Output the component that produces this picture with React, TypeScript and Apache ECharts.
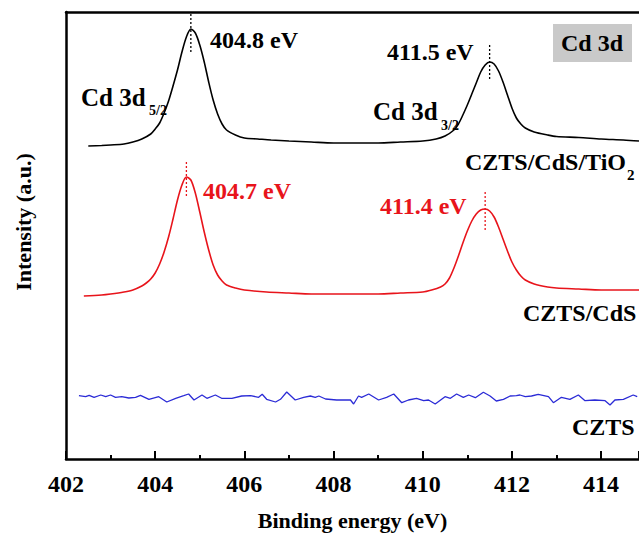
import { useEffect, useRef } from "react";
import * as echarts from "echarts";

const FONT = "Liberation Serif";

// Binding energy (eV) vs intensity (arbitrary units, offset traces)
const tiO2Curve: [number, number][] = [
  [402.5, 313], [402.8, 313.5], [403.0, 314], [403.3, 315], [403.5, 317], [403.7, 320],
  [403.9, 325], [404.0, 330], [404.1, 336], [404.2, 346], [404.3, 358], [404.4, 373],
  [404.5, 389], [404.6, 407], [404.7, 422], [404.8, 430], [404.9, 426], [405.0, 414],
  [405.1, 397], [405.2, 377], [405.3, 359], [405.4, 345], [405.5, 335], [405.6, 329],
  [405.8, 324], [406.0, 321], [406.3, 320], [406.6, 319], [407.0, 318], [407.5, 317],
  [408.0, 316], [408.5, 316], [409.0, 316], [409.5, 317], [410.0, 318], [410.3, 320],
  [410.5, 323], [410.7, 329], [410.8, 335], [410.9, 344], [411.0, 354], [411.1, 365],
  [411.2, 376], [411.3, 387], [411.4, 394], [411.5, 397], [411.6, 395], [411.7, 388],
  [411.8, 377], [411.9, 364], [412.0, 351], [412.1, 341], [412.2, 335], [412.3, 331],
  [412.5, 327], [412.8, 324], [413.0, 322.5], [413.5, 321.5], [414.0, 320], [414.5, 319],
  [414.85, 318],
];

const cdsCurve: [number, number][] = [
  [402.4, 163], [402.8, 164], [403.0, 165], [403.3, 167], [403.5, 169], [403.7, 173],
  [403.8, 176], [403.9, 180], [404.0, 186], [404.1, 195], [404.2, 207], [404.3, 222],
  [404.4, 240], [404.5, 259], [404.6, 274], [404.7, 282], [404.8, 279], [404.9, 266],
  [405.0, 247], [405.1, 227], [405.2, 209], [405.3, 194], [405.4, 184], [405.5, 178],
  [405.6, 174], [405.8, 171], [406.0, 169], [406.5, 167], [407.0, 166], [407.5, 165],
  [408.0, 165], [408.5, 165], [409.0, 165], [409.5, 166], [410.0, 167], [410.2, 169],
  [410.4, 172], [410.5, 175], [410.6, 181], [410.7, 191], [410.8, 203], [410.9, 216],
  [411.0, 228], [411.1, 238], [411.2, 245], [411.3, 249], [411.4, 250], [411.5, 248],
  [411.6, 242], [411.7, 232], [411.8, 220], [411.9, 208], [412.0, 197], [412.1, 189],
  [412.2, 183], [412.3, 179], [412.5, 175], [412.8, 172], [413.0, 171], [413.5, 170],
  [414.0, 169], [414.5, 169], [414.85, 169],
];

const cztsCurve: [number, number][] = [
  [402.29, 63.3], [402.44, 62.3], [402.52, 63.7], [402.63, 61.7], [402.78, 64], [402.89, 62.3],
  [403.0, 64], [403.11, 61.7], [403.25, 62.3], [403.41, 61], [403.56, 61.7], [403.67, 63.7],
  [403.86, 59.7], [404.08, 62.3], [404.26, 57], [404.46, 60.7], [404.64, 63.3], [404.75, 65],
  [404.87, 59], [405.05, 64], [405.16, 60.7], [405.35, 64], [405.49, 60.7], [405.72, 60.7],
  [405.94, 63], [406.14, 63.3], [406.32, 61.7], [406.4, 64.7], [406.5, 59.7], [406.7, 57],
  [406.81, 59.7], [406.95, 67], [407.14, 59], [407.33, 61.7], [407.48, 63], [407.59, 61.7],
  [407.67, 63], [407.82, 60], [408.07, 59], [408.38, 59], [408.45, 55], [408.56, 63],
  [408.63, 61.7], [408.79, 65], [409.01, 59], [409.19, 61.7], [409.35, 65], [409.53, 56.3],
  [409.68, 59], [409.86, 60.7], [410.02, 58.3], [410.13, 59], [410.28, 55], [410.5, 62.3],
  [410.62, 60.7], [410.76, 65], [410.91, 61.7], [411.03, 64], [411.18, 61.3], [411.36, 66.7],
  [411.51, 63], [411.65, 58], [411.81, 59.7], [411.96, 63], [412.1, 63.3], [412.18, 64],
  [412.3, 62.3], [412.44, 63], [412.59, 64.7], [412.82, 62.3], [412.93, 56.3], [413.11, 61.7],
  [413.3, 59.7], [413.49, 64], [413.64, 58.3], [413.86, 59], [414.09, 58.3], [414.2, 54],
  [414.31, 59], [414.5, 59.7], [414.72, 64], [414.81, 62.3],
];

// peak markers: [energy, top, bottom]
const tiO2Peaks: [number, number, number][] = [
  [404.8, 445, 406],
  [411.5, 414, 379],
];
const cdsPeaks: [number, number, number][] = [
  [404.7, 297, 261],
  [411.4, 267, 229],
];

const xMin = 402;
const xMax = 414.85;
const xInterval = 2;

const BLACK = "#000000";
const RED = "#e8141b";
const BLUE = "#2b2bd6";

function peakSeries(peaks: [number, number, number][], color: string) {
  return peaks.map((p) => ({
    type: "line",
    data: [
      [p[0], p[1]],
      [p[0], p[2]],
    ],
    symbol: "none",
    silent: true,
    lineStyle: { color, width: 1.3, type: [2, 2] },
  }));
}

function label(text: string, x: number, y: number, color: string, size = 24) {
  return {
    type: "text",
    x,
    y,
    silent: true,
    style: {
      text,
      fill: color,
      fontFamily: FONT,
      fontWeight: "bold",
      fontSize: size,
      verticalAlign: "middle",
      align: "left",
    },
  };
}

export default function App() {
  const ref = useRef<HTMLDivElement>(null);
  useEffect(() => {
    document.body.style.margin = "0";
    const chart = echarts.init(ref.current!, null, { renderer: "svg" });
    const axisText = {
      color: BLACK,
      fontFamily: FONT,
      fontWeight: "bold",
      fontSize: 24,
    };
    chart.setOption({
      animation: false,
      backgroundColor: "#ffffff",
      textStyle: { fontFamily: FONT },
      grid: { left: 66, right: 0, top: 12, bottom: 77, containLabel: false },
      xAxis: [
        {
          type: "value",
          min: xMin,
          max: xMax,
          interval: xInterval,
          name: "Binding energy (eV)",
          nameLocation: "middle",
          nameGap: 50,
          nameTextStyle: { ...axisText, fontSize: 22 },
          axisLine: { onZero: false, lineStyle: { color: BLACK, width: 2.5 } },
          axisTick: { inside: true, length: 8, lineStyle: { color: BLACK, width: 2 } },
          minorTick: { show: true, splitNumber: 2, length: 4, lineStyle: { color: BLACK, width: 2 } },
          axisLabel: { ...axisText, margin: 13, showMaxLabel: false },
          splitLine: { show: false },
        },
        {
          type: "value",
          position: "top",
          min: xMin,
          max: xMax,
          axisLine: { onZero: false, lineStyle: { color: BLACK, width: 2.5 } },
          axisTick: { show: false },
          axisLabel: { show: false },
          splitLine: { show: false },
        },
      ],
      yAxis: {
        type: "value",
        min: 0,
        max: 447,
        axisLine: { show: true, onZero: false, lineStyle: { color: BLACK, width: 2.5 } },
        axisTick: { show: false },
        axisLabel: { show: false },
        splitLine: { show: false },
      },
      series: [
        {
          type: "line",
          name: "CZTS/CdS/TiO2",
          data: tiO2Curve,
          symbol: "none",
          smooth: 0.3,
          lineStyle: { color: BLACK, width: 1.6 },
        },
        {
          type: "line",
          name: "CZTS/CdS",
          data: cdsCurve,
          symbol: "none",
          smooth: 0.3,
          lineStyle: { color: RED, width: 1.6 },
        },
        {
          type: "line",
          name: "CZTS",
          data: cztsCurve,
          symbol: "none",
          lineStyle: { color: BLUE, width: 1.3 },
        },
        ...peakSeries(tiO2Peaks, BLACK),
        ...peakSeries(cdsPeaks, RED),
      ],
      graphic: [
        {
          type: "text",
          x: 23,
          y: 222,
          rotation: Math.PI / 2,
          silent: true,
          style: {
            text: "Intensity (a.u.)",
            fill: BLACK,
            fontFamily: FONT,
            fontWeight: "bold",
            fontSize: 22,
            align: "center",
            verticalAlign: "middle",
          },
        },
        label("404.8 eV", 210, 40, BLACK),
        label("Cd 3d", 81, 97, BLACK, 25),
        label("5/2", 149, 110, BLACK, 14),
        label("411.5 eV", 387, 52, BLACK),
        label("Cd 3d", 373, 111, BLACK, 25),
        label("3/2", 441, 125, BLACK, 14),
        {
          type: "rect",
          shape: { x: 553, y: 24, width: 79, height: 38 },
          style: { fill: "#c9c9c9" },
          silent: true,
        },
        {
          type: "text",
          x: 592,
          y: 43,
          silent: true,
          style: {
            text: "Cd 3d",
            fill: BLACK,
            fontFamily: FONT,
            fontWeight: "bold",
            fontSize: 24,
            align: "center",
            verticalAlign: "middle",
          },
        },
        label("CZTS/CdS/TiO", 465, 162, BLACK),
        label("2", 627, 175, BLACK, 15),
        label("404.7 eV", 203, 191, RED),
        label("411.4 eV", 380, 206, RED),
        label("CZTS/CdS", 523, 313, BLACK),
        label("CZTS", 572, 427, BLACK),
      ],
    });
    return () => chart.dispose();
  }, []);
  return <div ref={ref} style={{ width: 639, height: 536 }} />;
}
